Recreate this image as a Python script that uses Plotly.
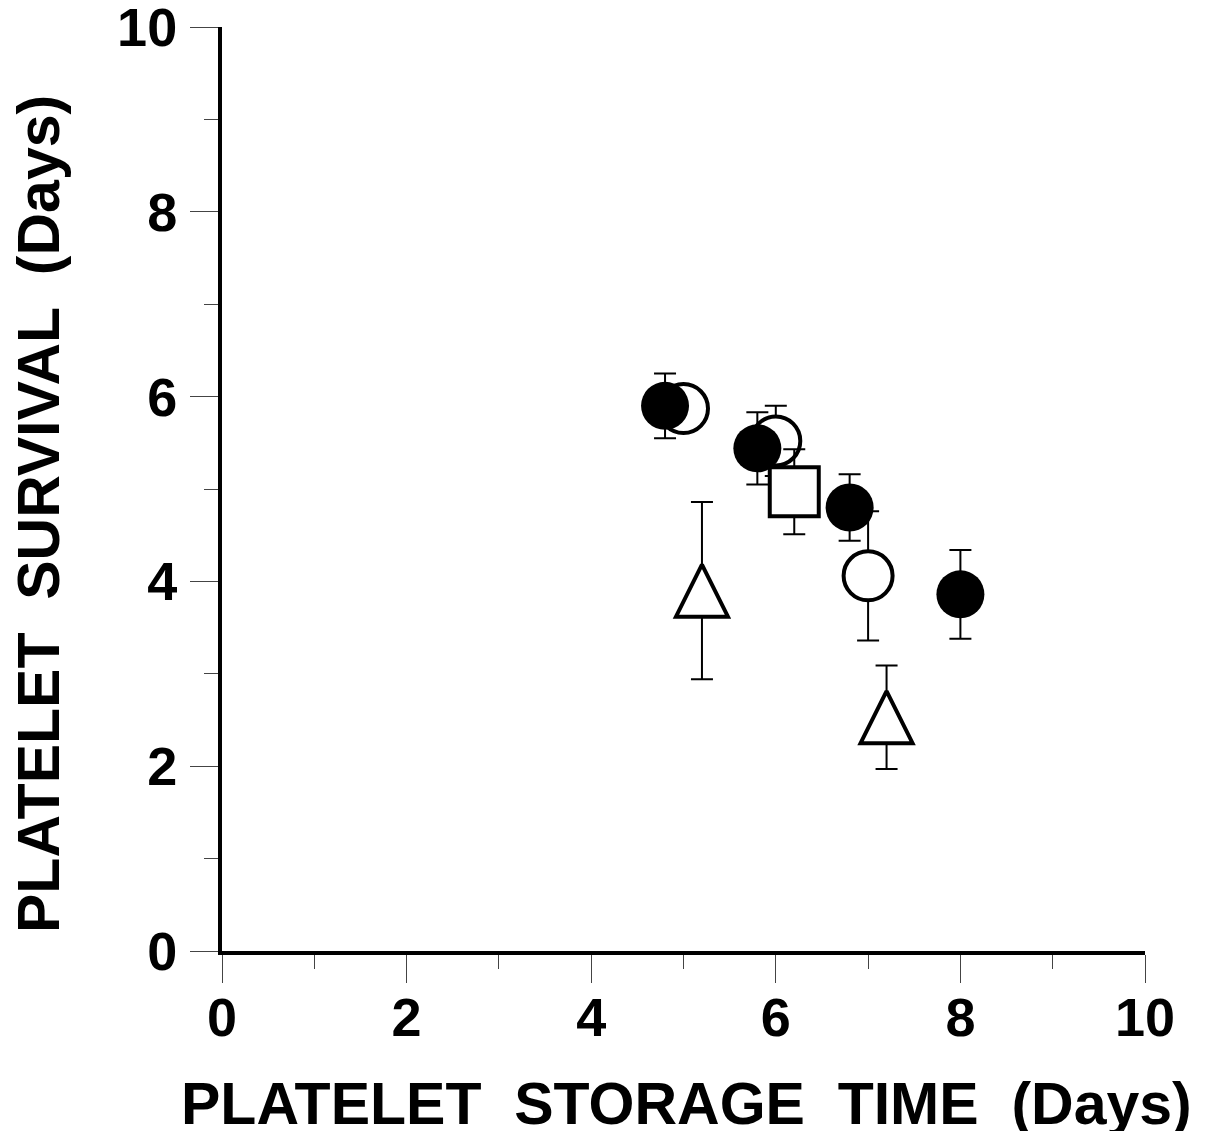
import plotly.graph_objects as go

# ---- data ----
filled_x = [4.8, 5.8, 6.8, 8.0]
filled_y = [5.90, 5.44, 4.80, 3.86]
filled_err = [0.35, 0.39, 0.36, 0.48]

open_x = [5.0, 6.0, 7.0]
open_y = [5.87, 5.52, 4.06]
open_err = [0.20, 0.38, 0.70]

square_x = [6.2]
square_y = [4.97]
square_err = [0.46]

tri_x = [5.2, 7.2]
tri_y = [3.90, 2.53]
tri_err = [0.96, 0.56]

x_ticks = [0, 2, 4, 6, 8, 10]
y_ticks = [0, 2, 4, 6, 8, 10]

x_title = "PLATELET  STORAGE  TIME  (Days)"
y_title = "PLATELET  SURVIVAL  (Days)"

# ---- layout geometry (pixels, page has an 8px body margin) ----
OFF = 8
W, H = 1215 - 2 * OFF, 1139 - 2 * OFF
L, T = 222 - OFF, 27 - OFF
PW, PH = 923, 924
R, B = W - L - PW, H - T - PH


def px_x(p):
    return (p - OFF - L) / PW


def px_y(p):
    return (T + PH - (p - OFF)) / PH


def err(vals):
    return dict(type="data", array=vals, visible=True, color="black",
                thickness=2, width=11)


fig = go.Figure()

fig.add_trace(go.Scatter(
    x=tri_x, y=tri_y, mode="markers", error_y=err(tri_err),
    marker=dict(symbol="arrow-down", angle=180, standoff=26, size=52,
                color="white", line=dict(color="black", width=4)),
    showlegend=False, hoverinfo="skip"))

fig.add_trace(go.Scatter(
    x=open_x, y=open_y, mode="markers", error_y=err(open_err),
    marker=dict(symbol="circle", size=49, color="white",
                line=dict(color="black", width=4)),
    showlegend=False, hoverinfo="skip"))

fig.add_trace(go.Scatter(
    x=square_x, y=square_y, mode="markers", error_y=err(square_err),
    marker=dict(symbol="square", size=49, color="white",
                line=dict(color="black", width=4)),
    showlegend=False, hoverinfo="skip"))

fig.add_trace(go.Scatter(
    x=filled_x, y=filled_y, mode="markers", error_y=err(filled_err),
    marker=dict(symbol="circle", size=48, color="black",
                line=dict(color="black", width=0)),
    showlegend=False, hoverinfo="skip"))

tickfont = dict(family="Liberation Sans, Arial, sans-serif", size=54,
                color="black", weight="bold")
axis_common = dict(
    range=[0, 10], showline=True, linewidth=4, linecolor="black",
    ticks="outside", ticklen=28, tickwidth=1, tickcolor="#444",
    showgrid=False, zeroline=False, tickfont=tickfont,
    ticklabeloverflow="allow", automargin=False,
    minor=dict(dtick=1, ticks="outside", ticklen=14, tickwidth=1,
               tickcolor="#444", showgrid=False),
)

fig.update_layout(
    width=W, height=H,
    margin=dict(l=L, r=R, t=T, b=B, autoexpand=False),
    paper_bgcolor="white", plot_bgcolor="white",
    xaxis=dict(tickvals=x_ticks, ticklabelstandoff=-12, **axis_common),
    yaxis=dict(tickvals=y_ticks, ticklabelstandoff=2, **axis_common),
    annotations=[
        dict(text=x_title, xref="paper", yref="paper",
             x=px_x(686), y=px_y(1104), xanchor="center", yanchor="middle",
             showarrow=False,
             font=dict(family="Liberation Sans, Arial, sans-serif",
                       size=59, color="black", weight="bold")),
        dict(text=y_title, xref="paper", yref="paper", textangle=-90,
             x=px_x(39), y=px_y(514), xanchor="center", yanchor="middle",
             showarrow=False,
             font=dict(family="Liberation Sans, Arial, sans-serif",
                       size=59, color="black", weight="bold")),
    ],
)

fig.write_html("out.html")
